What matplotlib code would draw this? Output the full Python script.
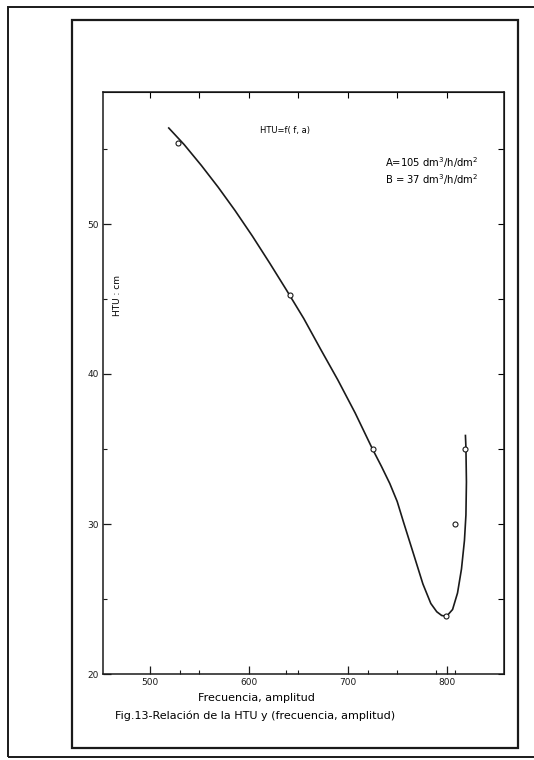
import matplotlib.pyplot as plt
from matplotlib.patches import Rectangle

# measured points (frecuencia*amplitud, HTU cm)
freq_amp = [528, 642, 726, 799, 808, 819]
htu = [55.4, 45.3, 35.0, 23.9, 30.0, 35.0]

# hand-drawn curve
curve_x = [519, 534.5, 552, 569, 586, 603.5, 621, 638, 655.5, 673, 690, 707.5,
           725, 734, 742.5, 750, 756.5, 767, 776, 784, 790, 795, 800, 806, 811,
           815, 818, 819.5, 820, 819.5, 819]
curve_y = [56.4, 55.3, 53.9, 52.45, 50.9, 49.2, 47.4, 45.6, 43.7, 41.6, 39.6, 37.4,
           35.0, 33.85, 32.7, 31.5, 30.1, 27.9, 26.0, 24.7, 24.15, 23.9, 23.85, 24.3,
           25.4, 27.0, 28.9, 30.6, 32.8, 35.1, 35.9]

x_major = [500, 600, 700, 800]
x_minor = [530, 550, 638, 650, 720, 750, 789, 808]
x_top = [500, 550, 600, 650, 700, 750, 800]
y_major = [20, 30, 40, 50]
y_minor = [25, 35, 45, 55]

W, H = 534, 760
fig = plt.figure(figsize=(W / 100, H / 100), dpi=100)
fig.patch.set_facecolor("white")

def px(x0, y0, x1, y1):
    # pixel box -> figure fraction (left, bottom, width, height)
    return (x0 / W, 1 - y1 / H, (x1 - x0) / W, (y1 - y0) / H)

# outer page frame and inner panel frame
for box, lw in [((8, 7, 580, 757), 1.4), ((72, 20, 518, 748), 1.6)]:
    l, b, w, h = px(*box)
    fig.patches.append(Rectangle((l, b), w, h, transform=fig.transFigure,
                                 fill=False, ec="#1a1a1a", lw=lw))

ax = fig.add_axes(px(103, 92, 504, 674))
ax.plot(curve_x, curve_y, color="#1a1a1a", lw=1.2, solid_joinstyle="round")
ax.plot(freq_amp, htu, "o", mfc="white", mec="#1a1a1a", ms=3.6, mew=0.8)

ax.set_xlim(452.5, 858)
ax.set_ylim(20, 58.8)
ax.set_xticks(x_major)
ax.set_xticks(x_minor, minor=True)
ax.set_yticks(y_major)
ax.set_yticks(y_minor, minor=True)
ax.tick_params(which="both", direction="in", labelsize=6.5, colors="#1a1a1a", pad=3)
ax.tick_params(which="major", length=6, width=0.9)
ax.tick_params(which="minor", length=3, width=0.8)
for s in ax.spines.values():
    s.set_linewidth(1.1)
    s.set_color("#1a1a1a")

top = ax.secondary_xaxis("top")
top.set_xticks(x_top)
top.tick_params(direction="in", length=4, width=0.8, labeltop=False)
right = ax.secondary_yaxis("right")
right.set_yticks(y_major + y_minor)
right.tick_params(direction="in", length=4, width=0.8, labelright=False)

ax.text(0.035, 0.65, "HTU : cm", transform=ax.transAxes, rotation=90,
        ha="center", va="center", fontsize=6.5)
fig.text(260 / W, 1 - 131 / H, "HTU=f( f, a)", fontsize=6, va="center")
fig.text(385 / W, 1 - 163 / H, r"A=105 dm$^3$/h/dm$^2$", fontsize=7.2, va="center")
fig.text(385 / W, 1 - 180 / H, r"B = 37 dm$^3$/h/dm$^2$", fontsize=7.2, va="center")
fig.text(256 / W, 1 - 698 / H, "Frecuencia, amplitud", fontsize=8, ha="center", va="center")
fig.text(255 / W, 1 - 716 / H, "Fig.13-Relación de la HTU y (frecuencia, amplitud)",
         fontsize=8, ha="center", va="center")

fig.savefig("out.png", dpi=100, facecolor="white")
